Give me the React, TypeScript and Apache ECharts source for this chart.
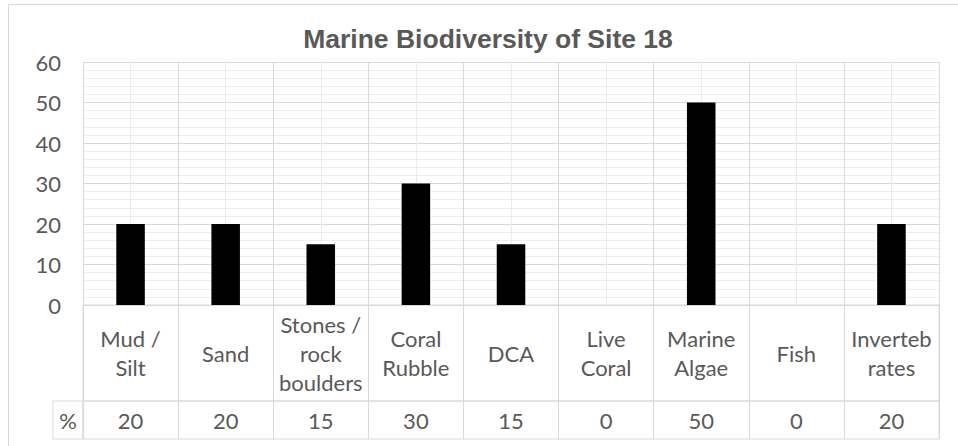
import React, { useEffect, useRef } from "react";
import * as echarts from "echarts";

// Survey categories, their labels in the data table, and the % cover values
const categories = [
  "Mud / Silt",
  "Sand",
  "Stones / rock boulders",
  "Coral Rubble",
  "DCA",
  "Live Coral",
  "Marine Algae",
  "Fish",
  "Invertebrates",
];
const categoryLabels = [
  "Mud /\nSilt",
  "Sand",
  "Stones /\nrock\nboulders",
  "Coral\nRubble",
  "DCA",
  "Live\nCoral",
  "Marine\nAlgae",
  "Fish",
  "Inverteb\nrates",
];
const percentValues = [20, 20, 15, 30, 15, 0, 50, 0, 20];
const yTicks = { min: 0, max: 60, step: 10 };

const TEXT = "#595959";
const GRID_MAJOR = "#d9d9d9";
const GRID_MINOR = "#eeeeee";
const FONT = "Lato";
const FONT_SIZE = 22;

export default function App() {
  const ref = useRef<HTMLDivElement>(null);

  useEffect(() => {
    if (!ref.current) return;
    const chart = echarts.init(ref.current, null, { renderer: "svg" });

    const plot = { left: 83, width: 856, top: 62, height: 243 };
    const rowLabelH = 96;
    const rowValueH = 38;
    const tableTop = plot.top + plot.height;

    const hiddenAxisParts = {
      axisLine: { show: false },
      axisTick: { show: false },
      axisLabel: { show: false },
    };

    chart.setOption({
      animation: false,
      backgroundColor: "#ffffff",
      grid: [
        { ...plot, containLabel: false },
        { left: plot.left, width: plot.width, top: tableTop, height: rowLabelH, show: true, borderColor: GRID_MAJOR, borderWidth: 1 },
        { left: plot.left, width: plot.width, top: tableTop + rowLabelH, height: rowValueH, show: true, borderColor: GRID_MAJOR, borderWidth: 1 },
      ],
      xAxis: [
        {
          // category axis carrying the bars and the label row of the table
          type: "category",
          gridIndex: 0,
          position: "bottom",
          data: categoryLabels,
          axisLine: { show: true, lineStyle: { color: GRID_MAJOR } },
          axisTick: { show: false },
          splitLine: { show: false },
          axisLabel: {
            interval: 0,
            margin: rowLabelH / 2,
            verticalAlign: "middle",
            lineHeight: 29,
            fontFamily: FONT,
            fontSize: FONT_SIZE,
            color: TEXT,
          },
        },
        {
          // value row of the data table
          type: "category",
          gridIndex: 0,
          position: "bottom",
          data: percentValues.map(String),
          axisLine: { show: false },
          axisTick: { show: false },
          splitLine: { show: false },
          axisLabel: {
            interval: 0,
            margin: rowLabelH + rowValueH / 2,
            verticalAlign: "middle",
            fontFamily: FONT,
            fontSize: FONT_SIZE,
            color: TEXT,
          },
        },
        {
          // vertical gridlines: category boundaries plus lighter mid-category lines
          type: "value",
          gridIndex: 0,
          position: "top",
          min: 0,
          max: categories.length,
          interval: 1,
          ...hiddenAxisParts,
          splitLine: { show: true, lineStyle: { color: GRID_MAJOR, width: 1 } },
          minorTick: { show: false, splitNumber: 2 },
          minorSplitLine: { show: true, lineStyle: { color: "#ebebeb", width: 1 } },
        },
        {
          type: "category",
          gridIndex: 1,
          data: categories,
          ...hiddenAxisParts,
          splitLine: { show: true, interval: 0, lineStyle: { color: GRID_MAJOR } },
        },
        {
          type: "category",
          gridIndex: 2,
          data: categories,
          ...hiddenAxisParts,
          splitLine: { show: true, interval: 0, lineStyle: { color: GRID_MAJOR } },
        },
      ],
      yAxis: [
        {
          type: "value",
          gridIndex: 0,
          min: yTicks.min,
          max: yTicks.max,
          interval: yTicks.step,
          axisLine: { show: false },
          axisTick: { show: false },
          axisLabel: {
            margin: 22,
            fontFamily: FONT,
            fontSize: FONT_SIZE,
            color: TEXT,
          },
          splitLine: { show: true, lineStyle: { color: GRID_MAJOR, width: 1 } },
          minorTick: { show: false, splitNumber: 5 },
          minorSplitLine: { show: true, lineStyle: { color: GRID_MINOR, width: 1 } },
        },
        { type: "value", gridIndex: 1, show: false },
        { type: "value", gridIndex: 2, show: false },
      ],
      graphic: [
        {
          type: "text",
          x: 488,
          y: 39,
          style: {
            text: "Marine Biodiversity of Site 18",
            fontFamily: "Liberation Sans",
            fontWeight: "bold",
            fontSize: 26.5,
            fill: TEXT,
            align: "center",
            verticalAlign: "middle",
          },
        },
        {
          type: "rect",
          shape: { x: plot.left - 30, y: tableTop + rowLabelH, width: 30, height: rowValueH },
          style: { fill: "none", stroke: GRID_MAJOR, lineWidth: 1 },
        },
        {
          type: "text",
          x: plot.left - 15,
          y: tableTop + rowLabelH + rowValueH / 2,
          style: {
            text: "%",
            fontFamily: FONT,
            fontSize: FONT_SIZE,
            fill: TEXT,
            align: "center",
            verticalAlign: "middle",
          },
        },
      ],
      series: [
        {
          name: "%",
          type: "bar",
          xAxisIndex: 0,
          yAxisIndex: 0,
          data: percentValues,
          barWidth: "30%",
          itemStyle: { color: "#000000" },
        },
      ],
    });

    return () => chart.dispose();
  }, []);

  return (
    <div style={{ position: "absolute", left: 0, top: 0, width: 958, height: 446, overflow: "hidden", background: "#fff" }}>
      <div ref={ref} style={{ position: "absolute", left: 0, top: 0, width: 958, height: 446 }} />
      <div
        style={{
          position: "absolute",
          left: 8,
          top: 4,
          width: 1000,
          height: 1000,
          borderLeft: "1px solid #d9d9d9",
          borderTop: "1px solid #d9d9d9",
          pointerEvents: "none",
        }}
      />
    </div>
  );
}
